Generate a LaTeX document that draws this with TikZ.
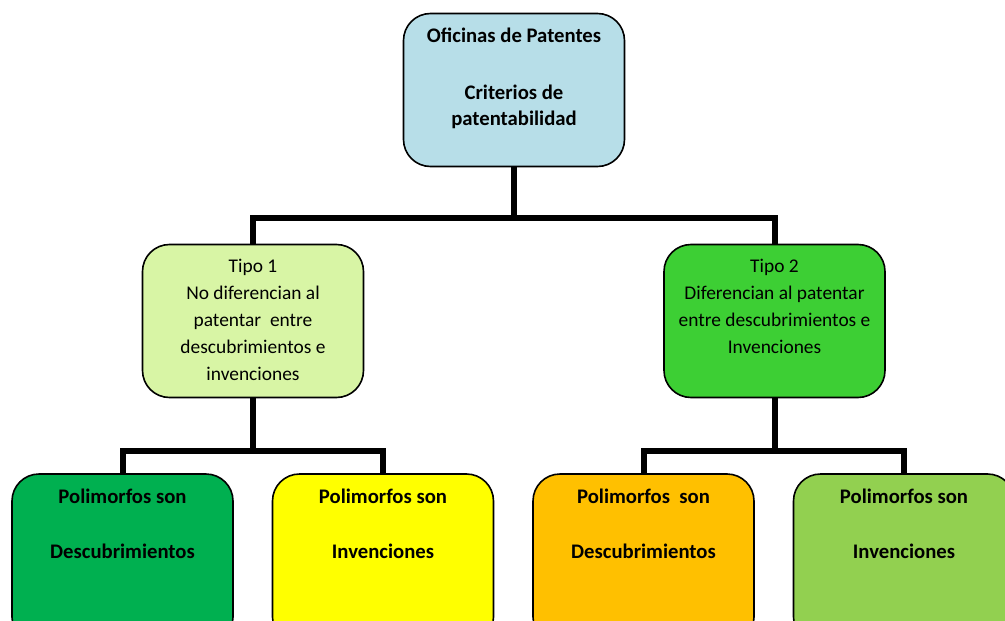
\documentclass[tikz,border=0pt]{standalone}
\usepackage{fontspec}
\setmainfont{Carlito}
\definecolor{cTop}{HTML}{B7DEE8}
\definecolor{cTa}{HTML}{D8F5A5}
\definecolor{cTb}{HTML}{3DCF34}
\definecolor{cBa}{HTML}{00B050}
\definecolor{cBb}{HTML}{FFFF00}
\definecolor{cBc}{HTML}{FFC000}
\definecolor{cBd}{HTML}{92D050}
\begin{document}
\begin{tikzpicture}[x=1pt,y=-1pt,
  box/.style={draw=black,line width=1.6pt,rounded corners=27pt,minimum width=221pt,inner sep=0pt,outer sep=0pt},
  midbox/.style={box,minimum height=153pt},
  lowbox/.style={box,minimum height=170pt},
  conn/.style={line width=6pt,black},
  bt/.style={font=\fontsize{20.7}{28}\selectfont\bfseries,align=center,inner sep=0pt,anchor=base},
  rt/.style={font=\fontsize{19.4}{27}\selectfont,align=center,inner sep=0pt,anchor=base}]
\useasboundingbox (0,0) rectangle (1005,621);
\fill[white] (0,0) rectangle (1005,621);
\clip (0,0) rectangle (1005,621);
% boxes
\node[box,fill=cTop,minimum height=153pt] (top) at (514,90) {};
\node[midbox,fill=cTa] (t1) at (253,321) {};
\node[midbox,fill=cTb] (t2) at (774.5,321) {};
\node[lowbox,fill=cBa] (b1) at (122.5,559) {};
\node[lowbox,fill=cBb] (b2) at (383,559) {};
\node[lowbox,fill=cBc] (b3) at (643.5,559) {};
\node[lowbox,fill=cBd] (b4) at (904,559) {};
% junctions
\coordinate (j0) at (514,218);
\coordinate (j1) at (253,451);
\coordinate (j2) at (774.5,451);
\draw[conn] (top.south) -- (j0) -| (t1.north);
\draw[conn] (j0) -| (t2.north);
\draw[conn] (t1.south) -- (j1) -| (b1.north);
\draw[conn] (j1) -| (b2.north);
\draw[conn] (t2.south) -- (j2) -| (b3.north);
\draw[conn] (j2) -| (b4.north);
% texts
\node[bt] (topa) at (514,42) {Oficinas de Patentes};
\node[bt] (topb) at (514,99) {Criterios de};
\node[bt] (topc) at (514,125) {patentabilidad};
\node[rt] (t1txt) at (253,380) {Tipo 1\\No diferencian al\\patentar\ \ entre\\descubrimientos e\\invenciones};
\node[rt] (t2txt) at (774.5,353) {Tipo 2\\Diferencian al patentar\\entre descubrimientos e\\Invenciones};
\node[bt] (b1a) at (122.5,503) {Polimorfos son};
\node[bt] (b1b) at (122.5,558) {Descubrimientos};
\node[bt] (b2a) at (383,503) {Polimorfos son};
\node[bt] (b2b) at (383,558) {Invenciones};
\node[bt] (b3a) at (643.5,503) {Polimorfos\ \ son};
\node[bt] (b3b) at (643.5,558) {Descubrimientos};
\node[bt] (b4a) at (904,503) {Polimorfos son};
\node[bt] (b4b) at (904,558) {Invenciones};
\end{tikzpicture}
\end{document}
